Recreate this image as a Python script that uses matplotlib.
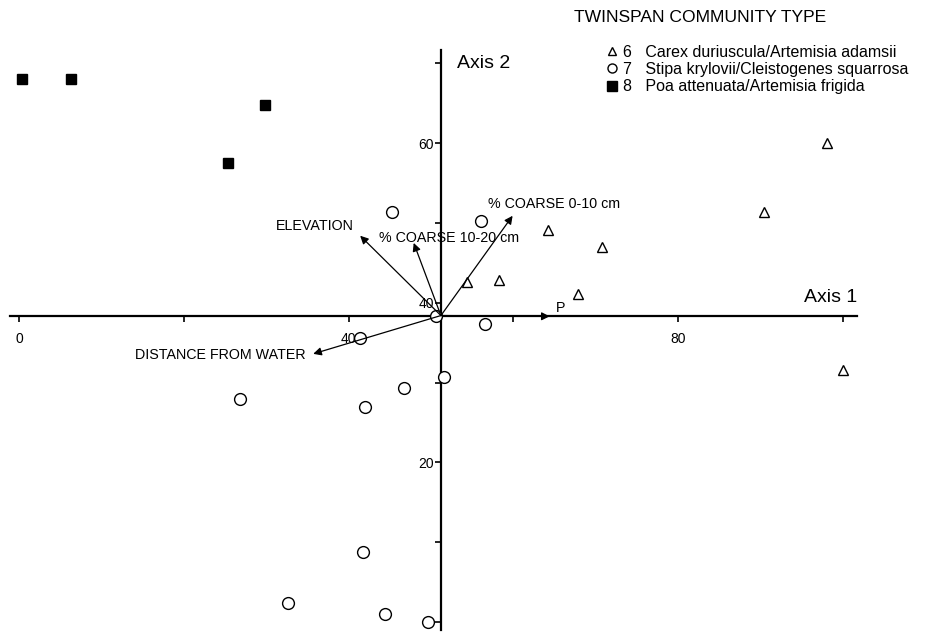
"""Canonical ordination biplot: TWINSPAN community types on axes 1 and 2,
with environmental vectors drawn from the centroid."""
import matplotlib.pyplot as plt
from matplotlib.lines import Line2D

plt.rcParams["font.family"] = ["Liberation Sans", "DejaVu Sans"]

# sample scores (axis 1, axis 2) per community type
type6_x = [98.1, 90.4, 70.8, 64.2, 54.4, 58.3, 67.8, 100.0]
type6_y = [60.0, 51.4, 47.0, 49.1, 42.6, 42.9, 41.1, 31.6]

type7_x = [45.3, 56.1, 50.6, 56.5, 41.4, 51.6, 46.7, 26.8, 42.0, 41.7, 32.6, 44.4, 49.6]
type7_y = [51.4, 50.3, 38.4, 37.4, 35.6, 30.7, 29.3, 27.9, 27.0, 8.75, 2.4, 1.0, 0.0]

type8_x = [0.4, 6.3, 29.9, 25.4]
type8_y = [68.0, 68.1, 64.8, 57.5]

type_labels = [
    "6   Carex duriuscula/Artemisia adamsii",
    "7   Stipa krylovii/Cleistogenes squarrosa",
    "8   Poa attenuata/Artemisia frigida",
]

# centroid where the axes cross and the vectors start
origin = (51.2, 38.4)

# environmental vector tips
vec_names = ["ELEVATION", "% COARSE 10-20 cm", "% COARSE 0-10 cm", "P",
             "DISTANCE FROM WATER"]
vec_x = [41.4, 47.9, 59.9, 64.4, 35.7]
vec_y = [48.4, 47.5, 50.9, 38.3, 33.6]

x_ticks = [0, 20, 40, 60, 80, 100]
x_ticklabels = ["0", "", "40", "", "80", ""]
y_ticks = [0, 10, 20, 30, 40, 50, 60, 70]
y_ticklabels = ["", "", "20", "", "40", "", "60", ""]

fig = plt.figure(figsize=(9.31, 6.35), dpi=100)
ax = fig.add_axes([0, 0, 1, 1])
ax.set_xlim(-2.31, 110.68)
ax.set_ylim(-1.63, 77.94)

# axes cross at the centroid
ax.spines["top"].set_visible(False)
ax.spines["right"].set_visible(False)
ax.spines["bottom"].set_position(("data", origin[1]))
ax.spines["left"].set_position(("data", origin[0]))
ax.spines["bottom"].set_bounds(-1.1, 101.7)
ax.spines["left"].set_bounds(-1.0, 71.7)
for side in ("bottom", "left"):
    ax.spines[side].set_linewidth(1.6)
    ax.spines[side].set_zorder(1)

ax.set_xticks(x_ticks)
ax.set_xticklabels(x_ticklabels)
ax.set_yticks(y_ticks)
ax.set_yticklabels(y_ticklabels)
ax.tick_params(axis="x", direction="out", length=4, width=1.2, pad=8,
               labelsize=10)
ax.tick_params(axis="y", direction="out", length=4, width=1.2, pad=1,
               labelsize=10)

# environmental vectors
for name, tx, ty in zip(vec_names, vec_x, vec_y):
    ax.annotate("", xy=(tx, ty), xytext=origin,
                arrowprops=dict(arrowstyle="-|>", color="black", lw=0.9,
                                mutation_scale=12, shrinkA=0, shrinkB=0))

lab_style = dict(fontsize=10.3, color="black")
ax.text(vec_x[0] - 0.8, vec_y[0] + 1.2, vec_names[0], ha="right", va="center", **lab_style)
ax.text(vec_x[1] - 4.2, vec_y[1] + 0.6, vec_names[1], ha="left", va="center", **lab_style)
ax.text(vec_x[2] - 3.0, vec_y[2] + 1.5, vec_names[2], ha="left", va="center", **lab_style)
ax.text(vec_x[3] + 0.8, vec_y[3] + 1.0, vec_names[3], ha="left", va="center", **lab_style)
ax.text(vec_x[4] - 0.9, vec_y[4] - 0.1, vec_names[4], ha="right", va="center", **lab_style)

# samples
ax.plot(type6_x, type6_y, "^", ms=7.5, mfc="white", mec="black", mew=1.0, ls="none")
ax.plot(type7_x, type7_y, "o", ms=8.5, mfc="white", mec="black", mew=1.0, ls="none")
ax.plot(type8_x, type8_y, "s", ms=7, mfc="black", mec="black", ls="none")

ax.text(101.7, origin[1] + 1.2, "Axis 1", ha="right", va="bottom", fontsize=14)
ax.text(origin[0] + 2.0, 70.0, "Axis 2", ha="left", va="center", fontsize=14)

# community type key
fig.text(574 / 931, 1 - 17 / 635, "TWINSPAN COMMUNITY TYPE", ha="left",
         va="center", fontsize=12.6)
handles = [
    Line2D([], [], marker="^", ls="none", ms=6, mfc="white", mec="black", mew=1.0),
    Line2D([], [], marker="o", ls="none", ms=6.5, mfc="white", mec="black", mew=1.0),
    Line2D([], [], marker="s", ls="none", ms=6.5, mfc="black", mec="black"),
]
fig.legend(handles, type_labels, loc="upper left",
           bbox_to_anchor=(605.5 / 931, 1 - 45 / 635), frameon=False,
           fontsize=11.5, handlelength=0.8, handletextpad=0.3, labelspacing=0.13,
           borderpad=0, borderaxespad=0)

fig.savefig("out.png", dpi=100)
